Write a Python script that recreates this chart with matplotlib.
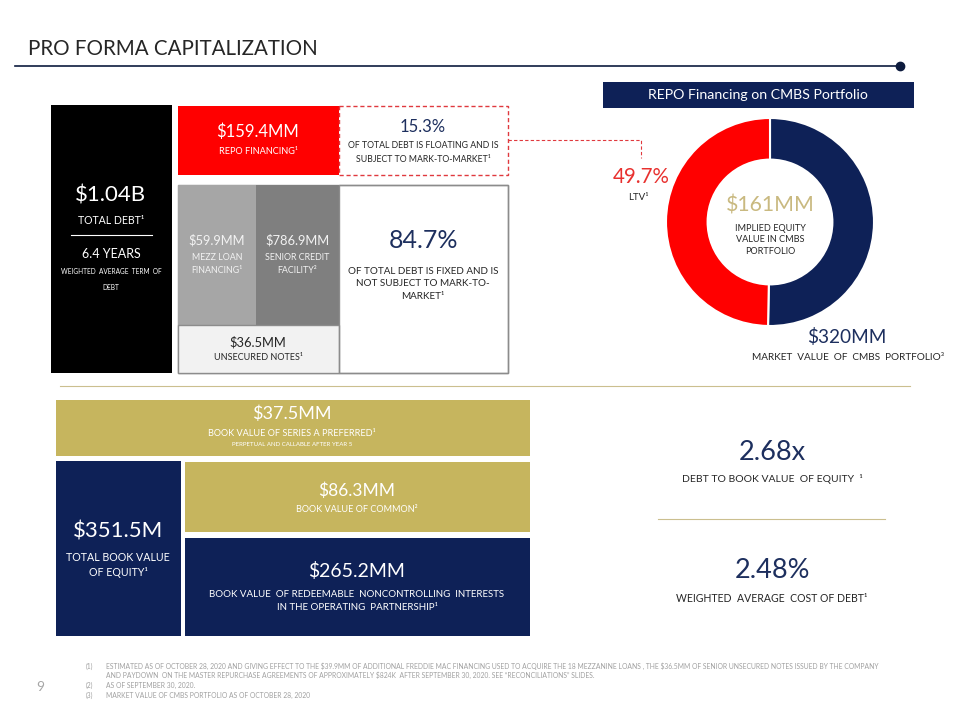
import matplotlib
matplotlib.use("Agg")
import matplotlib.pyplot as plt
from matplotlib.patches import Rectangle

plt.rcParams["font.family"] = ["Lato", "DejaVu Sans"]
plt.rcParams["text.parse_math"] = False

# ---------------- data ----------------
title = "PRO FORMA CAPITALIZATION"
total_debt_b = 1.04
avg_term_years = 6.4
debt_names = ["REPO FINANCING¹", "MEZZ LOAN\nFINANCING¹", "SENIOR CREDIT\nFACILITY²", "UNSECURED NOTES¹"]
debt_values_mm = [159.4, 59.9, 786.9, 36.5]
floating_pct = 15.3
fixed_pct = 84.7
cmbs_title = "REPO Financing on CMBS Portfolio"
cmbs_labels = ["Implied equity", "LTV"]
cmbs_shares = [50.3, 49.7]
cmbs_equity_mm = 161
cmbs_market_value_mm = 320
equity_names = ["BOOK VALUE OF SERIES A PREFERRED¹", "BOOK VALUE OF COMMON²",
                "BOOK VALUE  OF REDEEMABLE  NONCONTROLLING  INTERESTS\nIN THE OPERATING  PARTNERSHIP¹"]
equity_values_mm = [37.5, 86.3, 265.2]
total_equity_mm = 351.5
debt_to_equity = 2.68
cost_of_debt_pct = 2.48
page_number = "9"
footnote_marks = ["(1)", "", "(2)", "(3)"]
footnote_lines = [
    "ESTIMATED AS OF OCTOBER 28, 2020 AND GIVING EFFECT TO THE $39.9MM OF ADDITIONAL FREDDIE MAC FINANCING USED TO ACQUIRE THE 18 MEZZANINE LOANS , THE $36.5MM OF SENIOR UNSECURED NOTES ISSUED BY THE COMPANY",
    "AND PAYDOWN  ON THE MASTER REPURCHASE AGREEMENTS OF APPROXIMATELY $824K  AFTER SEPTEMBER 30, 2020. SEE \u201cRECONCILIATIONS\u201d SLIDES.",
    "AS OF SEPTEMBER 30, 2020.",
    "MARKET VALUE OF CMBS PORTFOLIO AS OF OCTOBER 28, 2020",
]

# ---------------- style ----------------
RED = "#ff0000"
NAVY = "#0e2157"
NAVY_TXT = "#1d2f5e"
GOLD = "#c6b55e"
TAN = "#c9b980"
DARK = "#262626"
GREY1 = "#a6a6a6"
GREY2 = "#7f7f7f"
GREY3 = "#f2f2f2"

fig = plt.figure(figsize=(9.6, 7.2), dpi=100)
ax = fig.add_axes([0, 0, 1, 1])
ax.set_xlim(0, 960)
ax.set_ylim(720, 0)
ax.axis("off")


def T(x, y, s, size, color=DARK, ha="center", va="center", **kw):
    ax.text(x, y, s, fontsize=size, color=color, ha=ha, va=va, **kw)


def R(x0, y0, x1, y1, fc, ec="none", lw=0, ls="-"):
    ax.add_patch(Rectangle((x0, y0), x1 - x0, y1 - y0, facecolor=fc, edgecolor=ec, linewidth=lw, linestyle=ls))


def mm(v, d=1):
    return f"${v:.{d}f}MM"


# title + header rule
T(28, 49, title, 14.8, color=DARK, ha="left")
ax.plot([15, 900], [66, 66], color="#0d1b3e", lw=1.2)
ax.plot([900], [66], "o", ms=6, color="#0d1b3e")

# ---- total debt column ----
R(51, 105, 172, 373, "black")
T(111, 196, f"${total_debt_b:.2f}B", 16, color="white")
T(111, 220, "TOTAL DEBT¹", 7.6, color="white")
ax.plot([71, 152], [235, 235], color="white", lw=0.8)
T(111, 254, f"{avg_term_years} YEARS", 9, color="white")
T(111, 272, "WEIGHTED  AVERAGE  TERM  OF", 4.7, color="white")
T(111, 288, "DEBT", 4.7, color="white")

# ---- repo / floating ----
R(178, 106, 339, 175, RED)
T(258, 132, mm(debt_values_mm[0]), 12, color="white")
T(258, 152, debt_names[0], 6.6, color="white")
R(339, 106, 508, 175, "white", ec="#e0393e", lw=1, ls=(0, (3, 2)))
T(423, 127, f"{floating_pct}%", 12, color=NAVY_TXT)
T(423, 146, "OF TOTAL DEBT IS FLOATING AND IS", 6.3)
T(423, 159, "SUBJECT TO MARK-TO-MARKET¹", 6.3)
ax.plot([508, 641, 641], [140, 140, 158], color="#e0393e", lw=0.8, ls=(0, (3, 2)))

# ---- fixed debt ----
R(178, 185, 508, 373, "white", ec="#8c8c8c", lw=1)
R(178, 185, 256, 325, GREY1)
R(256, 185, 339, 325, GREY2)
R(178, 325, 339, 373, GREY3, ec="#8c8c8c", lw=1)
R(339, 185, 508, 373, "none", ec="#8c8c8c", lw=1)
T(217, 240, mm(debt_values_mm[1]), 9.3, color="#f2f2f2")
T(217, 264, debt_names[1], 6.4, color="#f2f2f2", linespacing=1.45)
T(297, 240, mm(debt_values_mm[2]), 9.3, color="#f2f2f2")
T(297, 264, debt_names[2], 6.4, color="#f2f2f2", linespacing=1.45)
T(258, 342, mm(debt_values_mm[3]), 9.3, color=DARK)
T(258, 358, debt_names[3], 6.5, color=DARK)
T(423, 241, f"{fixed_pct}%", 18, color=NAVY_TXT)
T(423, 284, "OF TOTAL DEBT IS FIXED AND IS\nNOT SUBJECT TO MARK-TO-\nMARKET¹", 7.1, linespacing=1.5)

# ---- CMBS donut ----
R(603, 82, 914, 108, NAVY)
T(758, 95, cmbs_title, 10.2, color="white")
cx, cy, rr = 770, 222, 104
dax = fig.add_axes([(cx - rr) / 960, (720 - cy - rr) / 720, 2 * rr / 960, 2 * rr / 720])
dax.pie(cmbs_shares, colors=[NAVY, RED], startangle=90, counterclock=False,
        wedgeprops=dict(width=0.4, edgecolor="white", linewidth=1.5))
dax.set_xlim(-1, 1)
dax.set_ylim(-1, 1)
dax.set_aspect("equal")
dax.axis("off")
T(770, 206, f"${cmbs_equity_mm}MM", 15.3, color=TAN)
T(770, 240, "IMPLIED EQUITY\nVALUE IN CMBS\nPORTFOLIO", 6.6, linespacing=1.35)
T(641, 177, f"{cmbs_shares[1]}%", 14.8, color="#e8312f")
T(628, 198, "LTV¹", 7, ha="left")
T(847, 337, f"${cmbs_market_value_mm}MM", 13.7, color=NAVY_TXT)
T(848, 357, "MARKET  VALUE  OF  CMBS  PORTFOLIO³", 7.2)

# gold divider
ax.plot([60, 910], [386, 386], color="#cbbf8f", lw=0.8)

# ---- equity ----
R(56, 400, 530, 456, GOLD)
T(292, 414, mm(equity_values_mm[0]), 13, color="white")
T(292, 433, equity_names[0], 6.6, color="white")
T(292, 445, "PERPETUAL AND CALLABLE AFTER YEAR 5", 4.4, color="white")
R(56, 461, 181, 636, NAVY)
T(118, 532, f"${total_equity_mm}M", 16, color="white")
T(118, 565, "TOTAL BOOK VALUE\nOF EQUITY¹", 7.7, color="white", linespacing=1.45)
R(185, 462, 530, 532, GOLD)
T(357, 491, mm(equity_values_mm[1]), 12.5, color="white")
T(357, 510, equity_names[1], 6.6, color="white")
R(185, 538, 530, 636, NAVY)
T(357, 571, mm(equity_values_mm[2]), 14, color="white")
T(357, 601, equity_names[2], 7, color="white", linespacing=1.5)

# ---- ratios ----
T(772, 452, f"{debt_to_equity:.2f}x", 19.5, color=NAVY_TXT)
T(772, 479, "DEBT TO BOOK VALUE  OF EQUITY  ¹", 7.5)
ax.plot([658, 885], [519, 519], color="#cbbf8f", lw=0.8)
T(772, 571, f"{cost_of_debt_pct:.2f}%", 19.5, color=NAVY_TXT)
T(772, 598, "WEIGHTED  AVERAGE  COST OF DEBT¹", 7.6)

# ---- footer ----
T(40, 687, page_number, 10, color="#a6a6a6")
fy = [666, 675, 685, 695]
for m, line, y in zip(footnote_marks, footnote_lines, fy):
    if m:
        T(86, y, m, 4.9, color="#a0a0a0", ha="left")
    T(106, y, line, 4.9, color="#a0a0a0", ha="left")

fig.savefig("out.png", dpi=100)
